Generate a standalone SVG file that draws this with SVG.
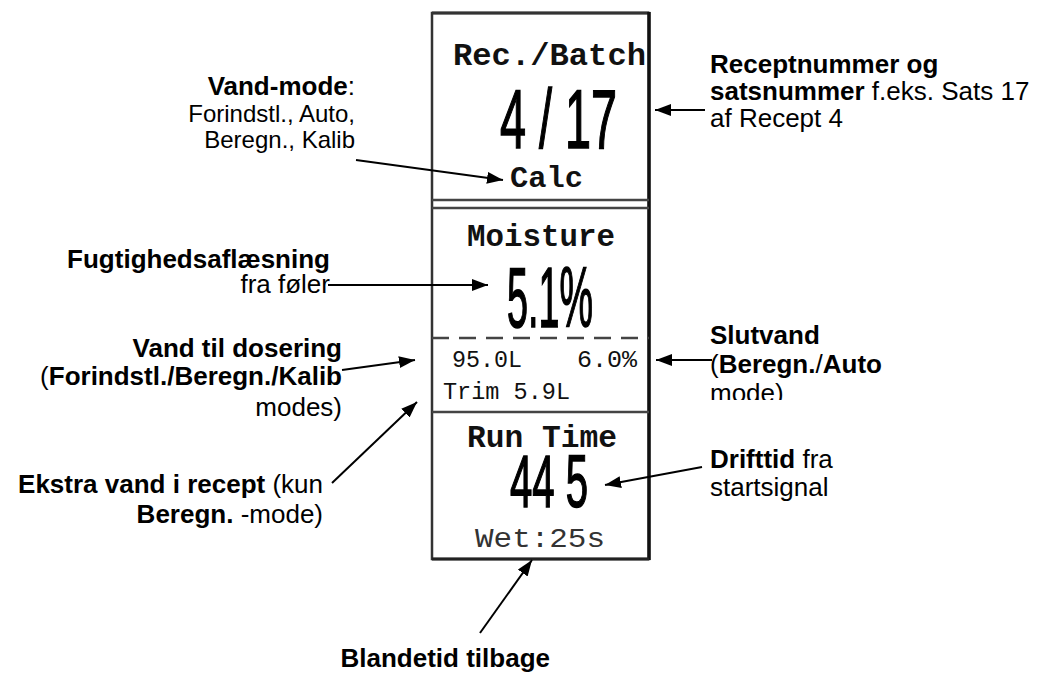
<svg xmlns="http://www.w3.org/2000/svg" width="1041" height="677" viewBox="0 0 1041 677">
<style>
.lbl{font-family:"Liberation Sans",Arial,sans-serif;font-size:26px;fill:#000}
.sm{font-size:24px}
.b{font-weight:bold}
.mono{font-family:"Liberation Mono","Courier New",monospace;fill:#111}
.big{font-family:"Liberation Sans",Arial,sans-serif;fill:#000;stroke:#000;stroke-width:1.6}
.frame{fill:#fff;stroke:#333;stroke-width:2.5}
.sep{stroke:#444;stroke-width:2.5;fill:none}
.conn line{stroke:#000;stroke-width:2}
</style>
<defs>
<marker id="ah" markerUnits="userSpaceOnUse" markerWidth="18" markerHeight="14" refX="16" refY="6" orient="auto">
<path d="M0,0 L16,6 L0,12 z" fill="#000"/>
</marker>
<clipPath id="clipSlut"><rect x="700" y="320" width="300" height="80"/></clipPath>
</defs>
<rect width="1041" height="677" fill="#fff"/>

<g id="display">
<rect class="frame" x="432" y="13" width="217" height="546"/>
<line x1="432" y1="13" x2="649" y2="13" stroke="#333" stroke-width="3"/>
<line x1="649" y1="12" x2="649" y2="560" stroke="#111" stroke-width="3.5"/>
<line x1="432" y1="559" x2="649" y2="559" stroke="#222" stroke-width="3"/>
<line class="sep" x1="432" y1="200" x2="649" y2="200"/>
<line class="sep" x1="432" y1="208" x2="649" y2="208"/>
<line x1="432" y1="338" x2="649" y2="338" stroke="#444" stroke-width="2.5" stroke-dasharray="17 10"/>
<line class="sep" x1="432" y1="412" x2="649" y2="412" stroke-width="3"/>
</g>

<g id="recbatch">
<text class="mono b" x="453" y="65" font-size="32" textLength="193" lengthAdjust="spacingAndGlyphs">Rec./Batch</text>
<text class="big" x="500" y="148" font-size="84" textLength="117" lengthAdjust="spacingAndGlyphs">4 / 17</text>
<text class="mono b" x="510" y="187" font-size="30" textLength="73" lengthAdjust="spacingAndGlyphs">Calc</text>
</g>

<g id="moisture">
<text class="mono b" x="467" y="246" font-size="31" textLength="148" lengthAdjust="spacingAndGlyphs">Moisture</text>
<text class="big" x="507" y="327" font-size="86" textLength="86" lengthAdjust="spacingAndGlyphs">5.1%</text>
<text class="mono" x="452" y="367" font-size="23" textLength="70" lengthAdjust="spacingAndGlyphs">95.0L</text>
<text class="mono" x="577" y="367" font-size="23" textLength="60" lengthAdjust="spacingAndGlyphs">6.0%</text>
<text class="mono" x="443" y="399" font-size="23" textLength="127" lengthAdjust="spacingAndGlyphs">Trim 5.9L</text>
</g>

<g id="runtime">
<text class="mono b" x="467" y="447" font-size="31" textLength="150" lengthAdjust="spacingAndGlyphs">Run Time</text>
<text class="big" x="510" y="507" font-size="75" textLength="78" lengthAdjust="spacingAndGlyphs">44 5</text>
<text class="mono" x="475" y="547" font-size="27" style="fill:#333" textLength="130" lengthAdjust="spacingAndGlyphs">Wet:25s</text>
</g>

<g id="lbl-vandmode">
<text class="lbl" x="355" y="95" text-anchor="end"><tspan class="b">Vand-mode</tspan>:</text>
<text class="lbl sm" x="355" y="122" text-anchor="end">Forindstl., Auto,</text>
<text class="lbl sm" x="355" y="148" text-anchor="end">Beregn., Kalib</text>
</g>

<g id="lbl-recept">
<text class="lbl b" x="710" y="73">Receptnummer og</text>
<text class="lbl" x="710" y="100"><tspan class="b">satsnummer</tspan> f.eks. Sats 17</text>
<text class="lbl" x="710" y="127">af Recept 4</text>
</g>

<g id="lbl-fugt">
<text class="lbl b" x="330" y="268" text-anchor="end">Fugtighedsaflæsning</text>
<text class="lbl" x="330" y="293" text-anchor="end">fra føler</text>
</g>

<g id="lbl-dosering">
<text class="lbl b" x="342" y="357" text-anchor="end">Vand til dosering</text>
<text class="lbl" x="342" y="385" text-anchor="end">(<tspan class="b">Forindstl./Beregn./Kalib</tspan></text>
<text class="lbl" x="342" y="416" text-anchor="end">modes)</text>
</g>

<g id="lbl-ekstra">
<text class="lbl" x="323" y="493" text-anchor="end"><tspan class="b">Ekstra vand i recept</tspan> (kun</text>
<text class="lbl" x="323" y="523" text-anchor="end"><tspan class="b">Beregn.</tspan> -mode)</text>
</g>

<g id="lbl-slutvand" clip-path="url(#clipSlut)">
<text class="lbl b" x="710" y="344">Slutvand</text>
<text class="lbl" x="710" y="373">(<tspan class="b">Beregn.</tspan>/<tspan class="b">Auto</tspan></text>
<text class="lbl" x="710" y="402">mode)</text>
</g>

<g id="lbl-drifttid">
<text class="lbl" x="710" y="468"><tspan class="b">Drifttid</tspan> fra</text>
<text class="lbl" x="710" y="496">startsignal</text>
</g>

<g id="lbl-blandetid">
<text class="lbl b" x="550" y="667" text-anchor="end">Blandetid tilbage</text>
</g>

<g id="connectors" class="conn">
<line x1="356" y1="160" x2="503" y2="180" marker-end="url(#ah)"/>
<line x1="705" y1="110" x2="655" y2="110" marker-end="url(#ah)"/>
<line x1="328" y1="285" x2="488" y2="285" marker-end="url(#ah)"/>
<line x1="342" y1="370" x2="415" y2="360" marker-end="url(#ah)"/>
<line x1="332" y1="483" x2="417" y2="402" marker-end="url(#ah)"/>
<line x1="712" y1="360" x2="656" y2="360" marker-end="url(#ah)"/>
<line x1="702" y1="467" x2="605" y2="485" marker-end="url(#ah)"/>
<line x1="480" y1="633" x2="532" y2="560" marker-end="url(#ah)"/>
</g>
</svg>
